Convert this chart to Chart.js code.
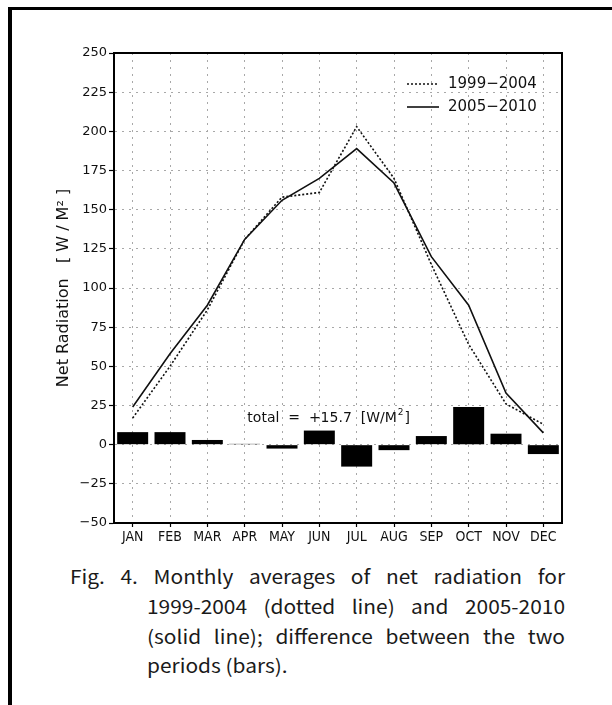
<!DOCTYPE html>
<html>
<head>
<meta charset="utf-8">
<script src="https://cdn.jsdelivr.net/npm/chart.js@4"></script>
<style>
  html, body { margin: 0; padding: 0; background: #fff; }
  body { width: 612px; height: 705px; position: relative; overflow: hidden; }
  #frame { position: absolute; left: 8px; top: 7px; width: 700px; height: 800px;
           border-left: 4px solid #000; border-top: 3px solid #000; }
  #wrap { position: absolute; left: 0; top: 0; width: 612px; height: 560px; }
  .ln { position: absolute; font-family: "Noto Sans CJK KR", "Noto Sans", sans-serif;
        font-size: 19px; line-height: 30px; color: #1a1a1a; white-space: nowrap;
        transform: scaleX(1.1); transform-origin: 0 0; }
  .j { text-align: justify; text-align-last: justify; white-space: normal; }
</style>
</head>
<body>
<div id="frame"></div>
<div id="wrap"><canvas id="chart" width="612" height="560"></canvas></div>
<div class="ln j" style="left:70px;top:561px;width:450px">Fig. 4. Monthly averages of net radiation for</div>
<div class="ln j" style="left:147px;top:591px;width:380px">1999-2004 (dotted line) and 2005-2010</div>
<div class="ln j" style="left:147px;top:621px;width:380px">(solid line); difference between the two</div>
<div class="ln" style="left:147px;top:650px">periods (bars).</div>
<script>
const months = ['JAN', 'FEB', 'MAR', 'APR', 'MAY', 'JUN', 'JUL', 'AUG', 'SEP', 'OCT', 'NOV', 'DEC'];

const rad1999 = [17, 50, 86, 131, 158, 161, 203, 170, 115, 64, 26, 13];
const rad2005 = [24, 58, 89, 131, 156, 170, 189, 167, 120, 89, 33, 7.5];
const diff = [8, 8, 3, 0.5, -2.5, 9, -14, -3.5, 5.5, 24, 7, -6];

const yTicks = [-50, -25, 0, 25, 50, 75, 100, 125, 150, 175, 200, 225, 250];

const ink = '#111';

// plot frame, legend and the "total" note
const extras = {
    id: 'extras',
    afterDraw(chart) {
        const ctx = chart.ctx;
        const a = chart.chartArea;
        const x = chart.scales.x;
        const y = chart.scales.y;
        ctx.save();
        ctx.strokeStyle = '#000';
        ctx.lineWidth = 2;
        ctx.strokeRect(a.left, a.top, a.right - a.left, a.bottom - a.top);

        // legend
        const lx = a.right - 155;
        const rows = [
            {text: '1999\u22122004', dash: [2, 2], y: a.top + 31},
            {text: '2005\u22122010', dash: [], y: a.top + 54},
        ];
        ctx.font = '15px "DejaVu Sans"';
        ctx.textBaseline = 'middle';
        ctx.textAlign = 'left';
        rows.forEach(r => {
            ctx.beginPath();
            ctx.setLineDash(r.dash);
            ctx.lineWidth = 1.6;
            ctx.strokeStyle = ink;
            ctx.moveTo(lx, r.y);
            ctx.lineTo(lx + 32, r.y);
            ctx.stroke();
            ctx.fillStyle = ink;
            ctx.fillText(r.text, lx + 41, r.y);
        });
        ctx.setLineDash([]);

        // total note
        ctx.font = '14px "DejaVu Sans"';
        const main = 'total  =  +15.7  [W/M';
        const w1 = ctx.measureText(main).width;
        ctx.font = '9px "DejaVu Sans"';
        const w2 = ctx.measureText('2').width;
        ctx.font = '14px "DejaVu Sans"';
        const w3 = ctx.measureText(']').width;
        const cx = x.getPixelForValue(5.25);
        const cy = y.getPixelForValue(17);
        let tx = cx - (w1 + w2 + w3 + 2) / 2;
        ctx.fillText(main, tx, cy);
        tx += w1 + 1;
        ctx.font = '9px "DejaVu Sans"';
        ctx.fillText('2', tx, cy - 5);
        tx += w2 + 1;
        ctx.font = '14px "DejaVu Sans"';
        ctx.fillText(']', tx, cy);
        ctx.restore();
    }
};

const config = {
    type: 'bar',
    data: {
        labels: months,
        datasets: [
            {
                type: 'line',
                label: '1999-2004',
                data: rad1999,
                borderColor: ink,
                borderWidth: 1.6,
                borderDash: [2, 2],
                pointRadius: 0,
                tension: 0,
                fill: false,
                order: 1,
            },
            {
                type: 'line',
                label: '2005-2010',
                data: rad2005,
                borderColor: ink,
                borderWidth: 1.6,
                pointRadius: 0,
                tension: 0,
                fill: false,
                order: 0,
            },
            {
                label: 'difference',
                data: diff,
                backgroundColor: '#000',
                borderWidth: 0,
                barPercentage: 0.83,
                categoryPercentage: 1,
                order: 2,
            }
        ]
    },
    options: {
        responsive: false,
        animation: false,
        devicePixelRatio: 1,
        layout: {
            padding: {top: 53, right: 50, left: 0, bottom: 0}
        },
        plugins: {
            legend: {display: false},
            tooltip: {enabled: false},
        },
        scales: {
            x: {
                offset: true,
                afterFit: s => { s.height = 37; },
                grid: {
                    offset: false,
                    color: '#a8a8a8',
                    lineWidth: 1,
                    tickLength: 4,
                    tickColor: '#000',
                    tickWidth: 1.2,
                },
                border: {color: '#000', width: 2, dash: [2, 5]},
                ticks: {
                    color: ink,
                    padding: 2,
                    maxRotation: 0,
                    autoSkip: false,
                    font: {family: 'DejaVu Sans Condensed', size: 14},
                }
            },
            y: {
                min: -50,
                max: 250,
                afterFit: s => { s.width = 114; },
                afterBuildTicks: s => { s.ticks = yTicks.map(v => ({value: v})); },
                grid: {
                    color: '#a8a8a8',
                    lineWidth: 1,
                    tickLength: 5,
                    tickColor: '#000',
                    tickWidth: 1.2,
                },
                border: {color: '#000', width: 2, dash: [2, 5]},
                ticks: {
                    color: ink,
                    padding: 2,
                    font: {family: 'DejaVu Sans', size: 13},
                    callback: v => String(v).replace('-', '\u2212'),
                },
                title: {
                    display: true,
                    text: 'Net Radiation   [ W / M\u00b2 ]',
                    color: ink,
                    padding: {top: 54, bottom: 0},
                    font: {family: 'DejaVu Sans', size: 16},
                }
            }
        }
    },
    plugins: [extras]
};

const chart = new Chart(document.getElementById('chart'), config);
</script>
</body>
</html>
